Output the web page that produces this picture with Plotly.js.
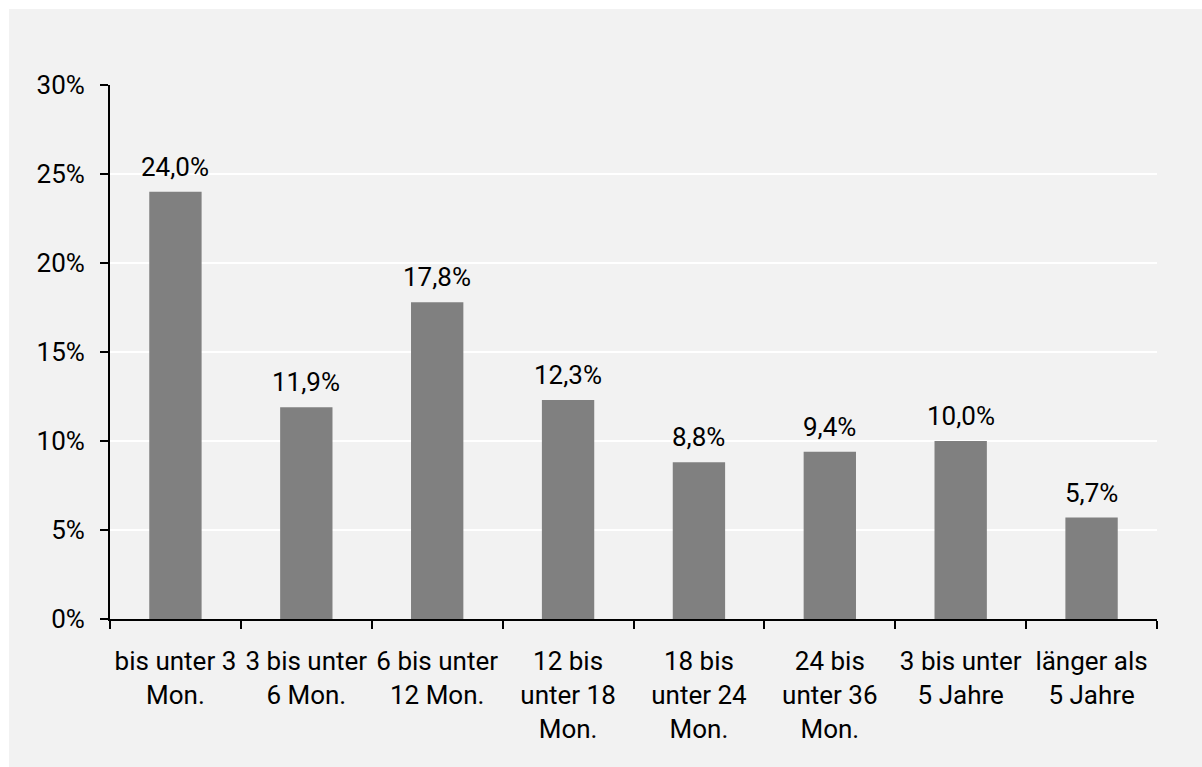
<!DOCTYPE html>
<html>
<head>
<meta charset="utf-8">
<script src="https://cdn.plot.ly/plotly-3.0.1.min.js"></script>
<style>
  body { margin: 0; background: #ffffff; }
  #chart { position: absolute; left: 9px; top: 9px; width: 1193px; height: 758px; }
</style>
</head>
<body>
<div id="chart"></div>
<script>
var categories = [
	'bis unter 3<br>Mon.',
	'3 bis unter<br>6 Mon.',
	'6 bis unter<br>12 Mon.',
	'12 bis<br>unter 18<br>Mon.',
	'18 bis<br>unter 24<br>Mon.',
	'24 bis<br>unter 36<br>Mon.',
	'3 bis unter<br>5 Jahre',
	'länger als<br>5 Jahre'
];
var shares = [24.0, 11.9, 17.8, 12.3, 8.8, 9.4, 10.0, 5.7];
var yTicks = [0, 5, 10, 15, 20, 25, 30];
var yTickLabels = ['0%', '5%', '10%', '15%', '20%', '25%', '30%'];

window.onload = function () {
	drawChart();
}

function drawChart() {
	var font = 'Roboto, sans-serif';
	var size = 26;
	var data = [
		{
			x: categories,
			y: shares,
			type: 'bar',
			marker: { color: '#808080' },
			hoverinfo: 'none'
		}
	];
	// value labels above the bars
	var labels = [];
	for (var i = 0; i < categories.length; i++) {
		labels.push({
			x: categories[i],
			y: shares[i],
			text: shares[i].toFixed(1).replace('.', ',') + '%',
			showarrow: false,
			yanchor: 'bottom',
			yshift: 8,
			font: { family: font, size: size, color: '#000000' }
		});
	}
	var layout = {
		paper_bgcolor: '#f2f2f2',
		plot_bgcolor: '#f2f2f2',
		showlegend: false,
		bargap: 0.6,
		font: { family: font, size: size, color: '#000000' },
		margin: { l: 101, r: 45, t: 76, b: 148 },
		annotations: labels,
		xaxis: {
			showline: true,
			linecolor: '#000000',
			linewidth: 2,
			ticks: 'outside',
			tickson: 'boundaries',
			ticklen: 8,
			tickwidth: 2,
			tickcolor: '#000000',
			ticklabelstandoff: 18,
			tickfont: { family: font, size: size, color: '#000000' },
			showgrid: false,
			tickangle: 0
		},
		yaxis: {
			range: [0, 30],
			tickmode: 'array',
			tickvals: yTicks,
			ticktext: yTickLabels,
			showline: true,
			linecolor: '#000000',
			linewidth: 2,
			ticks: 'outside',
			ticklen: 8,
			tickwidth: 2,
			tickcolor: '#000000',
			ticklabelstandoff: 10,
			tickfont: { family: font, size: size, color: '#000000' },
			showgrid: true,
			gridcolor: '#ffffff',
			gridwidth: 2,
			zeroline: false
		}
	};
	Plotly.newPlot('chart', data, layout, { displayModeBar: false, staticPlot: true });
}
</script>
</body>
</html>
